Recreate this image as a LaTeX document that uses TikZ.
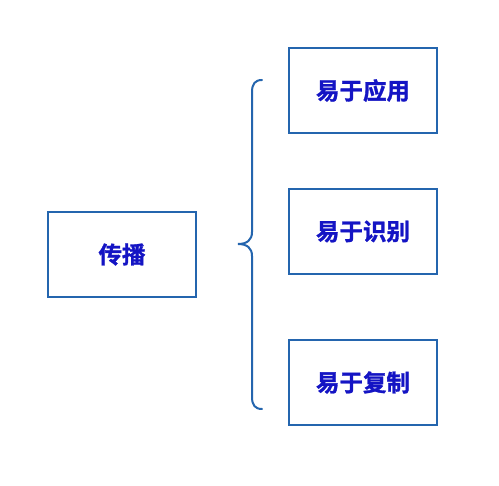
\documentclass[tikz,border=0pt]{standalone}
\usepackage{fontspec}
\newfontfamily\cjk[FakeBold=1.2]{Noto Sans CJK SC Bold}
\definecolor{boxblue}{HTML}{2465AE}
\definecolor{txtblue}{HTML}{1414C4}
\begin{document}
\begin{tikzpicture}[x=1pt,y=-1pt,
  box/.style={draw=boxblue,line width=2pt,minimum width=148pt,minimum height=85pt,inner sep=0pt,
    font=\cjk\fontsize{23.5}{26}\selectfont,text=txtblue},
  bracestyle/.style={draw=boxblue,line width=2pt,line cap=round}]
\fill[white] (0,0) rectangle (499,486);
\useasboundingbox (0,0) rectangle (499,486);
\node[box] (src) at (122,254.5) {传播};
\node[box] (app) at (363,90.5) {易于应用};
\node[box] (rec) at (363,231.5) {易于识别};
\node[box] (cpy) at (363,382.5) {易于复制};
\coordinate (bt) at (262,80);
\coordinate (bb) at (262,409);
\coordinate (tip) at (238,244);
\draw[bracestyle] (bt) .. controls (255,80) and (252,84) .. (252,92)
  -- (252,232) .. controls (252,240) and (247,244) .. (tip)
  .. controls (247,244) and (252,248) .. (252,256)
  -- (252,397) .. controls (252,405) and (255,409) .. (bb);
\end{tikzpicture}
\end{document}
